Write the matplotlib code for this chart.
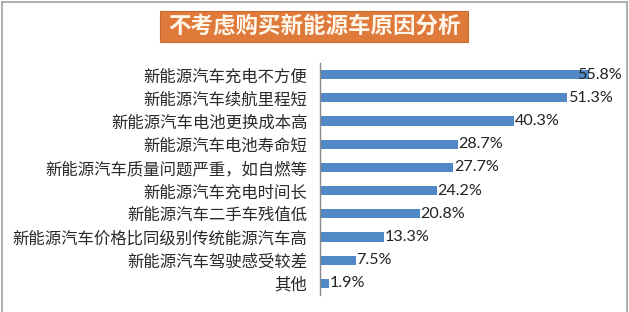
import matplotlib
matplotlib.use("Agg")
import matplotlib.pyplot as plt
from matplotlib.patches import Rectangle
from matplotlib.lines import Line2D

plt.rcParams['font.family'] = ['Noto Sans CJK SC', 'DejaVu Sans']

title = "不考虑购买新能源车原因分析"
categories = [
    "新能源汽车充电不方便",
    "新能源汽车续航里程短",
    "新能源汽车电池更换成本高",
    "新能源汽车电池寿命短",
    "新能源汽车质量问题严重，如自燃等",
    "新能源汽车充电时间长",
    "新能源汽车二手车残值低",
    "新能源汽车价格比同级别传统能源汽车高",
    "新能源汽车驾驶感受较差",
    "其他",
]
values = [55.8, 51.3, 40.3, 28.7, 27.7, 24.2, 20.8, 13.3, 7.5, 1.9]
value_labels = ["55.8%", "51.3%", "40.3%", "28.7%", "27.7%", "24.2%", "20.8%", "13.3%", "7.5%", "1.9%"]

W, H = 629, 312
fig = plt.figure(figsize=(W / 100, H / 100), dpi=100)
fig.patch.set_facecolor("white")

# outer border (top, left, right)
for xs, ys in [((1.5 / W, 627.0 / W), (1 - 1.5 / H, 1 - 1.5 / H)),
               ((1.5 / W, 1.5 / W), (0, 1 - 1.5 / H)),
               ((627.0 / W, 627.0 / W), (0, 1 - 1.5 / H))]:
    fig.add_artist(Line2D(xs, ys, transform=fig.transFigure, color="#A8A8A8", lw=1.3))

# title box
tx0, tx1, ty0, ty1 = 160, 468, 11, 42
fig.add_artist(Rectangle((tx0 / W, 1 - ty1 / H), (tx1 - tx0) / W, (ty1 - ty0) / H,
                         transform=fig.transFigure, facecolor="#DF7A3B",
                         edgecolor="#C9692E", lw=0.8))
fig.text((tx0 + tx1) / 2 / W, 1 - (ty0 + ty1) / 2 / H, title, ha="center", va="center",
         color="#FFF6EA", fontsize=16.2, fontweight="bold")

# axes
ax_left, ax_right, ax_top, ax_bot = 320, 609, 63, 295
ax = fig.add_axes([ax_left / W, 1 - ax_bot / H, (ax_right - ax_left) / W, (ax_bot - ax_top) / H])
ax.set_facecolor("none")
y = list(range(len(categories)))
ax.barh(y, values, height=0.4, color="#5089C6")
ax.set_xlim(0, 60)
ax.set_ylim(len(categories) - 0.5, -0.5)
ax.set_yticks(y)
ax.set_yticklabels(categories, fontsize=11.8, color="#2A2A2A")
ax.tick_params(axis="y", length=0, pad=9)
ax.set_xticks([])
for s in ["top", "right", "bottom"]:
    ax.spines[s].set_visible(False)
ax.spines["left"].set_color("#8A8A8A")
ax.spines["left"].set_linewidth(1.0)

label_max = 53.3
for yi, v, lab in zip(y, values, value_labels):
    ax.text(min(v, label_max) + 0.1, yi, lab, va="center", ha="left",
            fontsize=11.6, color="#222222", family=["Lato", "DejaVu Sans"])

fig.savefig("out.png", dpi=100)
